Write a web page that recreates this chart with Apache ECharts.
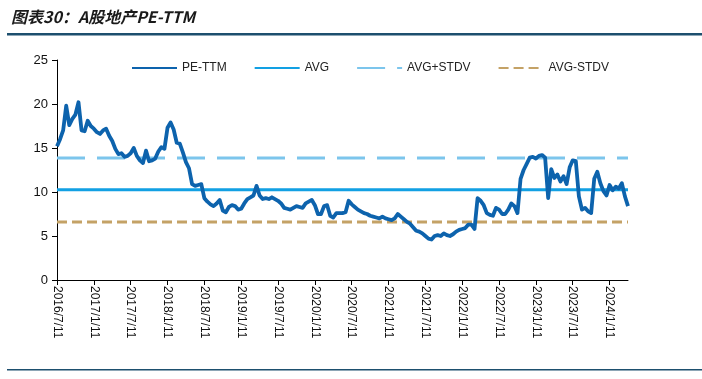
<!DOCTYPE html>
<html>
<head>
<meta charset="utf-8">
<script src="https://cdn.jsdelivr.net/npm/echarts@6/dist/echarts.min.js"></script>
<style>
html,body{margin:0;padding:0;background:#fff;}
#chart{width:702px;height:379px;}
</style>
</head>
<body>
<div id="chart"></div>
<script>
var titleText = '图表30：A股地产PE-TTM';
var tickLabels = ['2016/7/11','2017/1/11','2017/7/11','2018/1/11','2018/7/11','2019/1/11','2019/7/11','2020/1/11','2020/7/11','2021/1/11','2021/7/11','2022/1/11','2022/7/11','2023/1/11','2023/7/11','2024/1/11'];
var seriesNames = ['PE-TTM','AVG','AVG+STDV','AVG-STDV'];
var peTTM = [
15.2,16.0,17.0,19.8,17.6,18.3,18.8,20.2,17.0,16.9,18.1,17.5,
17.2,16.8,16.6,17.0,17.2,16.4,15.8,14.9,14.3,14.4,14.0,14.1,
14.4,15.0,14.1,13.6,13.3,14.7,13.5,13.6,13.8,14.6,15.1,14.9,
17.3,17.9,17.1,15.6,15.5,14.5,13.4,12.7,10.9,10.7,10.8,10.9,
9.3,8.9,8.6,8.4,8.7,9.1,7.9,7.7,8.3,8.5,8.4,8.0,
8.1,8.7,9.2,9.4,9.6,10.7,9.6,9.2,9.3,9.2,9.4,9.2,
9.0,8.7,8.2,8.1,8.0,8.2,8.4,8.3,8.2,8.7,8.9,9.1,
8.5,7.5,7.5,8.4,8.5,7.3,7.1,7.6,7.6,7.6,7.7,9.0,
8.6,8.3,8.0,7.8,7.6,7.5,7.3,7.2,7.1,7.0,7.2,7.0,
6.9,6.8,7.0,7.5,7.2,6.9,6.6,6.4,6.0,5.6,5.5,5.3,
5.0,4.7,4.6,5.0,5.1,5.0,5.3,5.1,5.0,5.2,5.5,5.7,
5.8,5.9,6.3,6.3,5.8,9.3,9.0,8.5,7.6,7.4,7.3,8.2,
8.0,7.5,7.5,8.0,8.7,8.4,7.6,11.5,12.5,13.2,13.9,14.0,
13.8,14.1,14.2,13.9,9.3,12.6,11.6,12.0,11.2,11.8,10.9,12.8,
13.6,13.5,9.5,8.0,8.2,7.8,7.6,11.5,12.3,11.0,10.1,9.6,
10.8,10.2,10.6,10.4,11.0,9.5,8.4
];
var AVG = 10.25;
var AVG_PLUS = 13.85;
var AVG_MINUS = 6.6;
var perTick = 12;

var categories = peTTM.map(function(v,i){return String(i);});
function flat(v){return peTTM.map(function(){return v;});}

var chart = echarts.init(document.getElementById('chart'));
chart.setOption({
  animation:false,
  backgroundColor:'#fff',
  graphic:[
    {type:'text', left:11, top:9, style:{text:titleText, font:'italic bold 16px "Noto Sans CJK SC"', fill:'#1a1a1a'}},
    {type:'rect', shape:{x:7,y:33,width:695,height:2.5}, style:{fill:'#1d4f6e'}},
    {type:'rect', shape:{x:7,y:369,width:695,height:1.5}, style:{fill:'#1d4f6e'}}
  ],
  legend:{
    top:57, left:126, itemWidth:45, itemHeight:4, itemGap:27,
    itemStyle:{opacity:0},
    textStyle:{fontFamily:'Liberation Sans, Arial', fontSize:12, color:'#222'},
    data:seriesNames
  },
  grid:{left:57, right:74, top:60, bottom:99},
  xAxis:{
    type:'category', data:categories, boundaryGap:false,
    axisLine:{lineStyle:{color:'#000', width:1}},
    axisTick:{interval:perTick-1, length:5, lineStyle:{color:'#000'}},
    axisLabel:{interval:perTick-1, rotate:-90, margin:6, color:'#111', fontFamily:'Liberation Sans, Arial', fontSize:12,
      formatter:function(v,idx){var k=idx/perTick; return tickLabels[k]||'';}},
    splitLine:{show:false}
  },
  yAxis:{
    type:'value', min:0, max:25, interval:5,
    axisLine:{show:true, lineStyle:{color:'#000', width:1}},
    axisTick:{show:true, length:5, lineStyle:{color:'#000'}},
    axisLabel:{color:'#111', fontFamily:'Liberation Sans, Arial', fontSize:13, margin:9},
    splitLine:{show:false}
  },
  series:[
    {name:seriesNames[0], type:'line', data:peTTM, showSymbol:false, symbol:'none', z:5,
     lineStyle:{color:'#0d63ad', width:3.8, join:'round'}, itemStyle:{color:'#0d63ad'}},
    {name:seriesNames[1], type:'line', data:flat(AVG), showSymbol:false, symbol:'none', z:4,
     lineStyle:{color:'#12a0e3', width:3}, itemStyle:{color:'#12a0e3'}},
    {name:seriesNames[2], type:'line', data:flat(AVG_PLUS), showSymbol:false, symbol:'none', z:3,
     lineStyle:{color:'#7cc5ec', width:3, type:[28,12]}, itemStyle:{color:'#7cc5ec'}},
    {name:seriesNames[3], type:'line', data:flat(AVG_MINUS), showSymbol:false, symbol:'none', z:3,
     lineStyle:{color:'#c4a266', width:3, type:[10,5]}, itemStyle:{color:'#c4a266'}}
  ]
});
</script>
</body>
</html>
